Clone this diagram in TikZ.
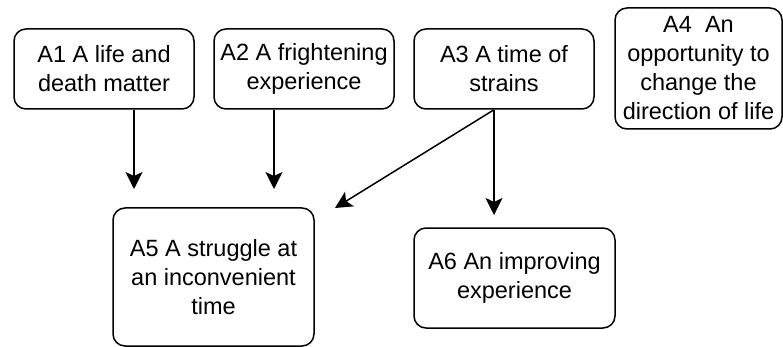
\documentclass[tikz,border=0pt]{standalone}
\usepackage{fontspec}
\setmainfont{Liberation Sans}
\usetikzlibrary{arrows.meta}
\begin{document}
\begin{tikzpicture}[x=1pt,y=-1pt,
  theme/.style={draw=black, line width=1.5pt, rounded corners=12pt, align=center,
    inner sep=0pt, font=\fontsize{23.5}{29}\selectfont},
  link/.style={line width=1.5pt, -{Stealth[length=17pt,width=17pt,inset=4pt]}}]
\useasboundingbox (0,0) rectangle (783,347);

\node[theme, minimum width=180pt, minimum height=80pt] (a1) at (104,69) {A1 A life and\\death matter};
\node[theme, minimum width=180pt, minimum height=80pt] (a2) at (304,69) {A2 A frightening\\experience};
\node[theme, minimum width=180pt, minimum height=80pt] (a3) at (504,69) {A3 A time of\\strains};
\node[theme, minimum width=167pt, minimum height=121pt] (a4) at (698.5,68.5) {A4\ \ An\\opportunity to\\change the\\direction of life};
\node[theme, minimum width=201pt, minimum height=138pt] (a5) at (213.5,277) {A5 A struggle at\\an inconvenient\\time};
\node[theme, minimum width=201pt, minimum height=100pt] (a6) at (514.5,278) {A6 An improving\\experience};

% free arrow ends
\coordinate (e1) at (134,189);
\coordinate (e2) at (274,189);
\coordinate (e3) at (335,208);
\coordinate (e4) at (494,215);

\draw[link] (a1.south -| e1) -- (e1);
\draw[link] (a2.south -| e2) -- (e2);
\draw[link] (a3.south -| e4) -- (e3);
\draw[link] (a3.south -| e4) -- (e4);
\end{tikzpicture}
\end{document}
